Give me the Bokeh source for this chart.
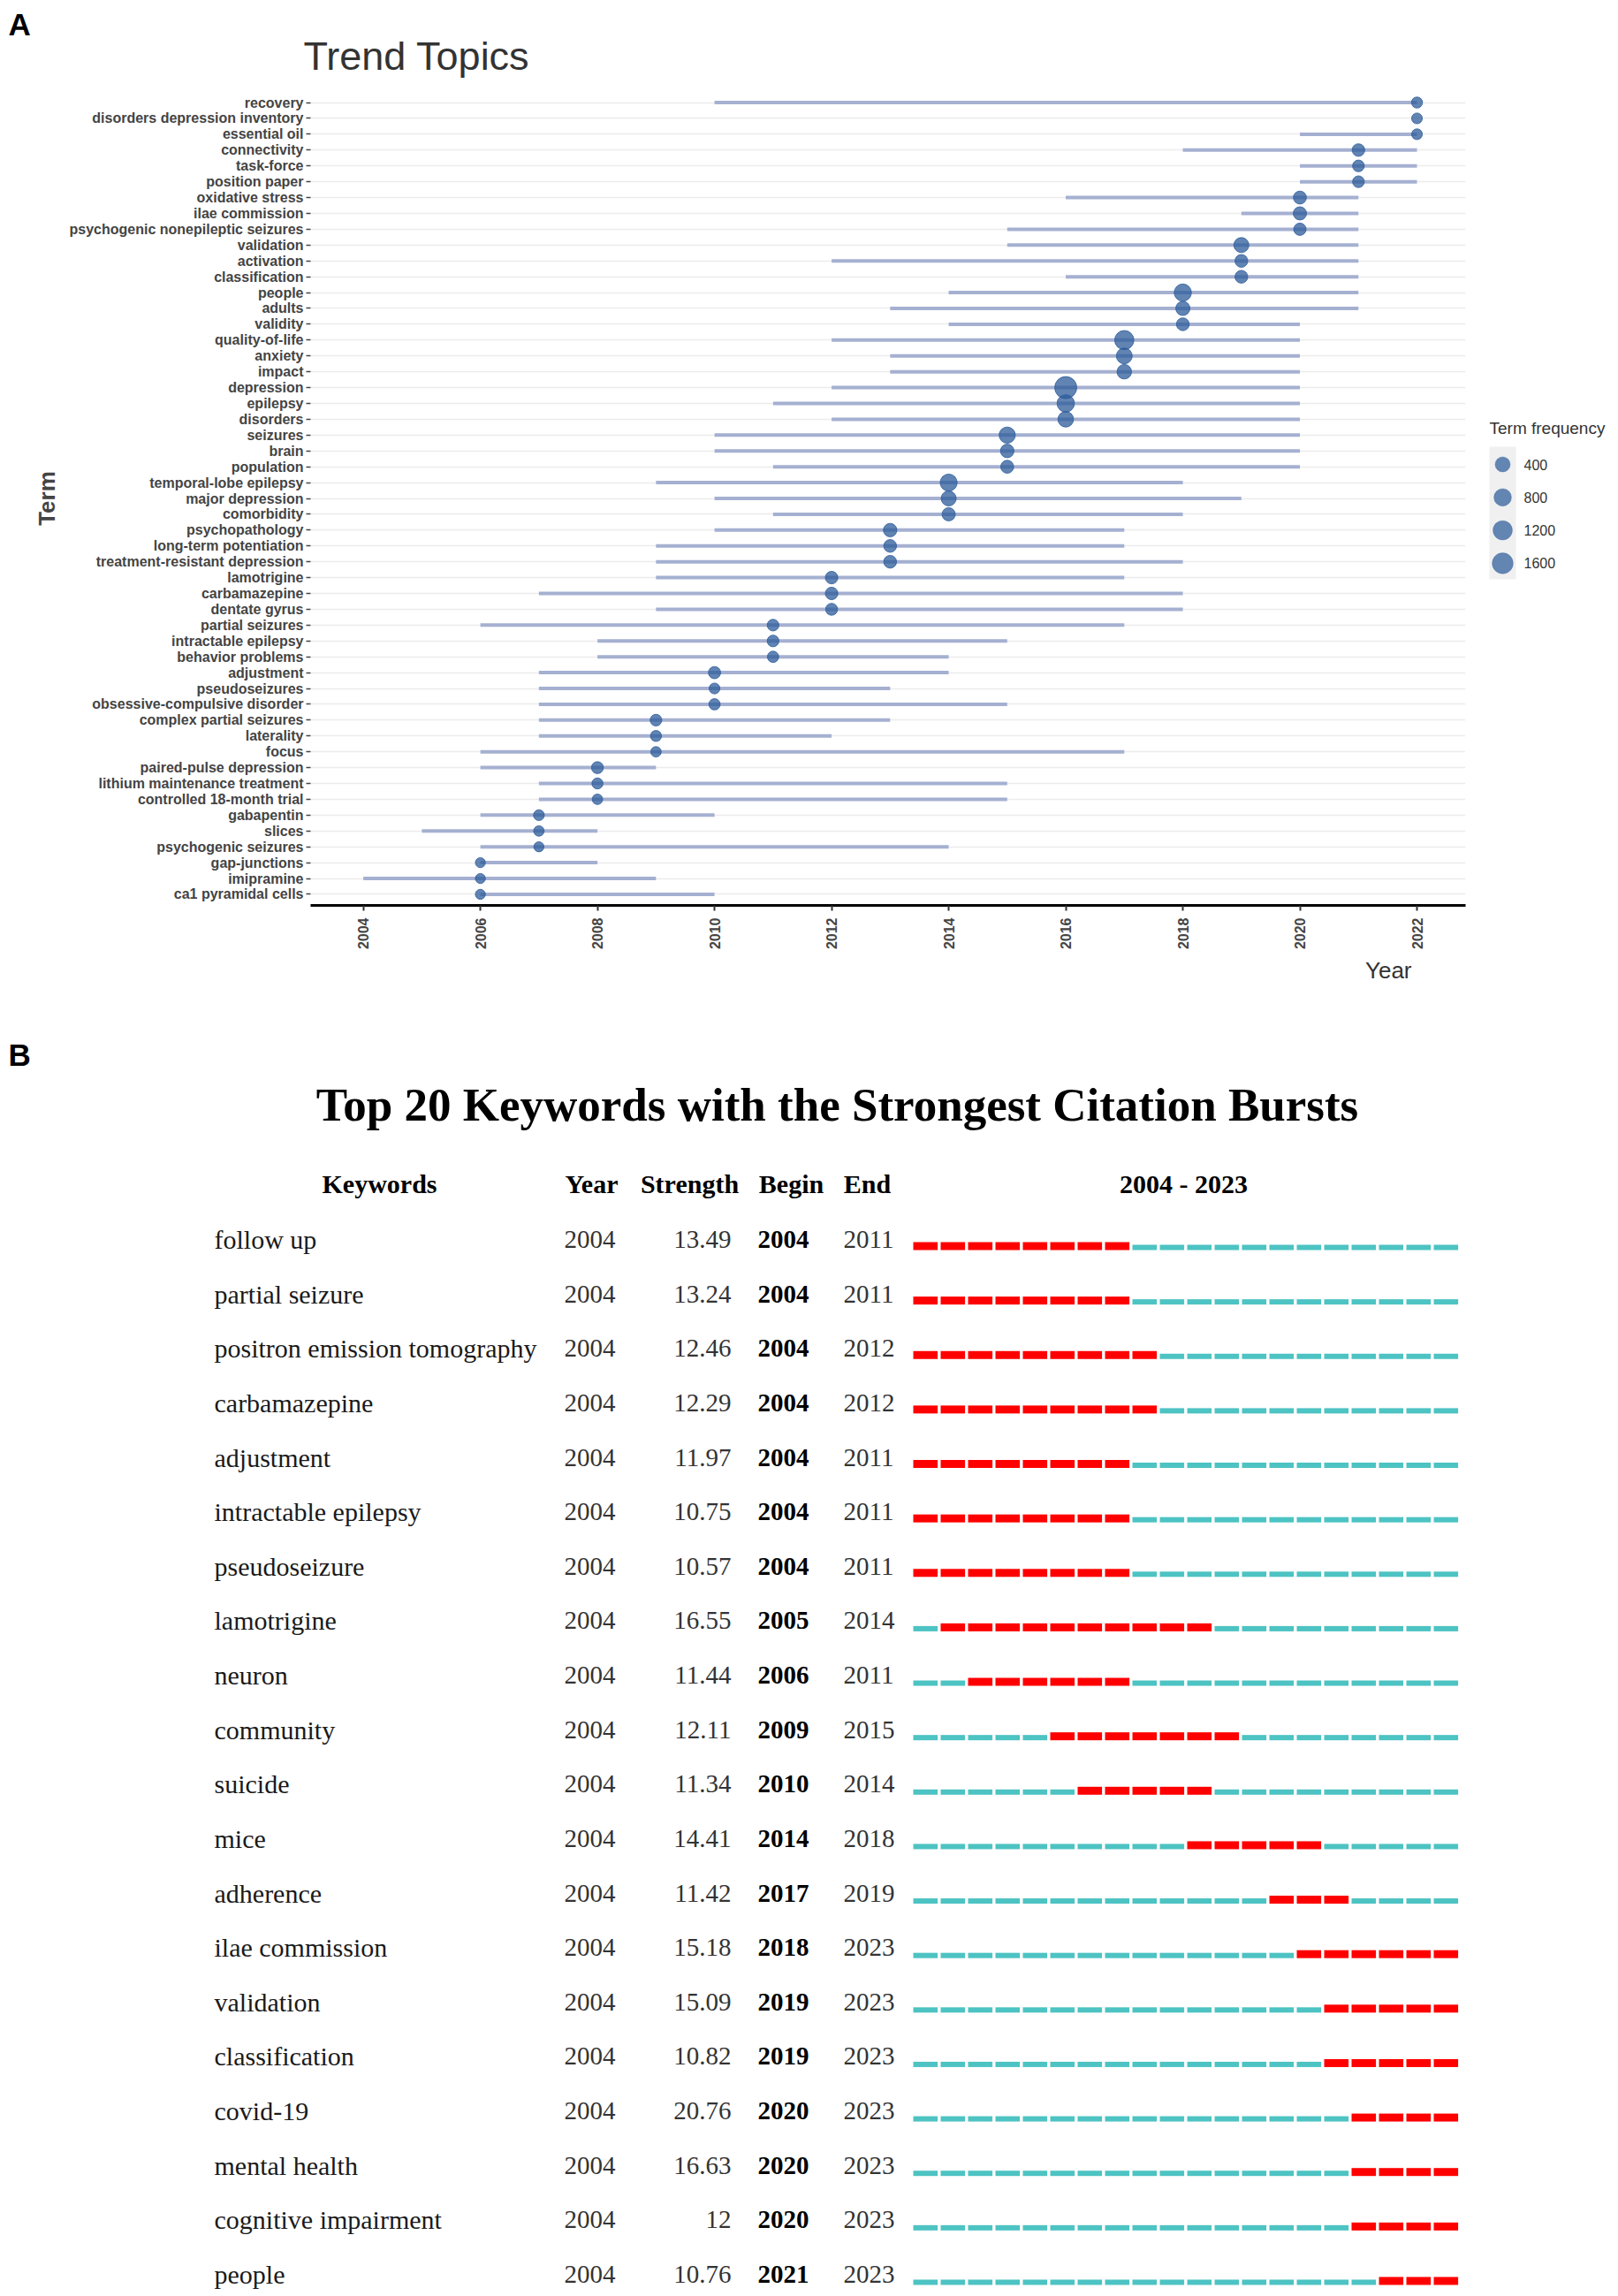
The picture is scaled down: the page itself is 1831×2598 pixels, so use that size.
import numpy as np
from bokeh.plotting import figure
from bokeh.models import FactorRange, Range1d, ColumnDataSource, FixedTicker
from bokeh.layouts import row, column
from bokeh.embed import file_html
from bokeh.resources import INLINE
from bokeh.core.properties import value

# ---------------- Panel A data (Trend Topics) ----------------
terms = ["recovery", "disorders depression inventory", "essential oil", "connectivity",
         "task-force", "position paper", "oxidative stress", "ilae commission",
         "psychogenic nonepileptic seizures", "validation", "activation", "classification",
         "people", "adults", "validity", "quality-of-life", "anxiety", "impact",
         "depression", "epilepsy", "disorders", "seizures", "brain", "population",
         "temporal-lobe epilepsy", "major depression", "comorbidity", "psychopathology",
         "long-term potentiation", "treatment-resistant depression", "lamotrigine",
         "carbamazepine", "dentate gyrus", "partial seizures", "intractable epilepsy",
         "behavior problems", "adjustment", "pseudoseizures", "obsessive-compulsive disorder",
         "complex partial seizures", "laterality", "focus", "paired-pulse depression",
         "lithium maintenance treatment", "controlled 18-month trial", "gabapentin",
         "slices", "psychogenic seizures", "gap-junctions", "imipramine", "ca1 pyramidal cells"]
year_q1 = [2010, 2022, 2020, 2018, 2020, 2020, 2016, 2019, 2015, 2015, 2012, 2016,
           2014, 2013, 2014, 2012, 2013, 2013, 2012, 2011, 2012, 2010, 2010, 2011,
           2009, 2010, 2011, 2010, 2009, 2009, 2009, 2007, 2009, 2006, 2008, 2008,
           2007, 2007, 2007, 2007, 2007, 2006, 2006, 2007, 2007, 2006, 2005, 2006,
           2006, 2004, 2006]
year_med = [2022, 2022, 2022, 2021, 2021, 2021, 2020, 2020, 2020, 2019, 2019, 2019,
            2018, 2018, 2018, 2017, 2017, 2017, 2016, 2016, 2016, 2015, 2015, 2015,
            2014, 2014, 2014, 2013, 2013, 2013, 2012, 2012, 2012, 2011, 2011, 2011,
            2010, 2010, 2010, 2009, 2009, 2009, 2008, 2008, 2008, 2007, 2007, 2007,
            2006, 2006, 2006]
year_q3 = [2022, 2022, 2022, 2022, 2022, 2022, 2021, 2021, 2021, 2021, 2021, 2021,
           2021, 2021, 2020, 2020, 2020, 2020, 2020, 2020, 2020, 2020, 2020, 2020,
           2018, 2019, 2018, 2017, 2017, 2018, 2017, 2018, 2018, 2017, 2015, 2014,
           2014, 2013, 2015, 2013, 2012, 2017, 2009, 2015, 2015, 2010, 2008, 2014,
           2008, 2009, 2010]
term_freq = [37, 25, 25, 133, 72, 72, 162, 186, 112, 388, 147, 147,
             744, 278, 147, 1152, 516, 330, 1931, 777, 476, 559, 212, 162,
             711, 388, 186, 203, 147, 147, 126, 126, 83, 67, 67, 49,
             100, 27, 49, 67, 37, 16, 83, 37, 16, 27, 16, 8,
             6, 6, 7]
legend_freq = [400, 800, 1200, 1600]
year_ticks = [2004, 2006, 2008, 2010, 2012, 2014, 2016, 2018, 2020, 2022]

# ---------------- Panel B data (Citation bursts) ----------------
kw = ["follow up", "partial seizure", "positron emission tomography", "carbamazepine",
      "adjustment", "intractable epilepsy", "pseudoseizure", "lamotrigine", "neuron",
      "community", "suicide", "mice", "adherence", "ilae commission", "validation",
      "classification", "covid-19", "mental health", "cognitive impairment", "people"]
kw_year = [2004] * 20
kw_strength = [13.49, 13.24, 12.46, 12.29, 11.97, 10.75, 10.57, 16.55, 11.44, 12.11,
               11.34, 14.41, 11.42, 15.18, 15.09, 10.82, 20.76, 16.63, 12, 10.76]
kw_begin = [2004, 2004, 2004, 2004, 2004, 2004, 2004, 2005, 2006, 2009,
            2010, 2014, 2017, 2018, 2019, 2019, 2020, 2020, 2020, 2021]
kw_end = [2011, 2011, 2012, 2012, 2011, 2011, 2011, 2014, 2011, 2015,
          2014, 2018, 2019, 2023, 2023, 2023, 2023, 2023, 2023, 2023]
span_first, span_last = 2004, 2023

SANS = "Liberation Sans"
SERIF = "Liberation Serif"
W = 1823


def dot_diameter(f):
    return 10.5 + 0.33 * np.sqrt(np.asarray(f, dtype=float))


def blank(width, height, xr, yr, **kw_):
    f = figure(width=width, height=height, x_range=xr, y_range=yr,
               output_backend="svg", toolbar_location=None, min_border=0,
               x_axis_location=None, y_axis_location=None, **kw_)
    f.outline_line_color = None
    f.grid.grid_line_color = None
    return f


# ================= header (A + title) =================
H_HEAD = 103
pH = blank(W, H_HEAD, Range1d(0, W), Range1d(H_HEAD, 0))
pH.text(x=[9], y=[27], text=["A"], text_font=value(SANS), text_font_style="bold",
        text_font_size="35px", text_color="black", text_baseline="middle")
pH.text(x=[343], y=[63], text=["Trend Topics"], text_font=value(SANS),
        text_font_size="45px", text_color="#333333", text_baseline="middle")

# ================= Panel A figure =================
H_A = 981
W_A = 1668
BOT_A = 60
pA = figure(width=W_A, height=H_A,
            x_range=Range1d(2003.1, 2022.83),
            y_range=FactorRange(factors=terms[::-1], range_padding=0.2,
                                range_padding_units="absolute"),
            output_backend="svg", toolbar_location=None,
            min_border_left=351, min_border_right=10,
            min_border_top=0, min_border_bottom=BOT_A)
pA.outline_line_color = None
pA.xgrid.grid_line_color = None
pA.ygrid.grid_line_color = "#ececec"
pA.ygrid.grid_line_width = 1.5

srcA = ColumnDataSource(dict(term=terms, q1=year_q1, q3=year_q3, med=year_med,
                             freq=term_freq, size=dot_diameter(term_freq)))
pA.segment(x0="q1", y0="term", x1="q3", y1="term", source=srcA,
           line_width=4, line_color="#a5b0d1")
pA.scatter(x="med", y="term", size="size", source=srcA,
           fill_color="#2c5b9a", fill_alpha=0.75,
           line_color="#2c5b9a", line_alpha=0.8, line_width=1)

xa = pA.xaxis[0]
xa.ticker = FixedTicker(ticks=year_ticks)
xa.major_label_orientation = np.pi / 2
xa.major_label_text_font = SANS
xa.major_label_text_font_style = "bold"
xa.major_label_text_font_size = "16px"
xa.major_label_text_color = "#444444"
xa.axis_line_width = 3
xa.axis_line_color = "black"
xa.major_tick_in = 0
xa.major_tick_out = 6
xa.major_tick_line_width = 2
xa.major_tick_line_color = "#333333"
xa.minor_tick_line_color = None
xa.major_label_standoff = 8

ya = pA.yaxis[0]
ya.axis_line_color = None
ya.major_tick_in = 0
ya.major_tick_out = 5
ya.major_tick_line_width = 1.5
ya.major_tick_line_color = "#444444"
ya.major_label_standoff = 3
ya.major_label_text_font = SANS
ya.major_label_text_font_style = "bold"
ya.major_label_text_font_size = "16px"
ya.major_label_text_color = "#444444"
ya.axis_label = "Term"
ya.axis_label_text_font = SANS
ya.axis_label_text_font_style = "bold"
ya.axis_label_text_font_size = "26px"
ya.axis_label_text_color = "#444444"
ya.axis_label_standoff = 8

# ================= Legend figure (frame aligned with panel A frame) =================
W_L = W - W_A
FRAME_H = H_A - BOT_A
pL = figure(width=W_L, height=H_A, x_range=Range1d(0, W_L), y_range=Range1d(FRAME_H, 0),
            output_backend="svg", toolbar_location=None,
            min_border_left=0, min_border_right=0, min_border_top=0,
            min_border_bottom=BOT_A, x_axis_location=None, y_axis_location=None)
pL.outline_line_color = None
pL.grid.grid_line_color = None
leg_y0, leg_dy = 422, 37.3
leg_y = [leg_y0 + i * leg_dy for i in range(len(legend_freq))]
pL.text(x=[17], y=[381], text=["Term frequency"], text_font=value(SANS),
        text_font_size="19px", text_color="#333333", text_baseline="middle")
pL.quad(left=[17], right=[47], top=[leg_y[0] - 20], bottom=[leg_y[-1] + 18],
        fill_color="#f0f0f0", line_color=None)
pL.scatter(x=[32] * len(legend_freq), y=leg_y, size=dot_diameter(legend_freq),
           fill_color="#2c5b9a", fill_alpha=0.72, line_color="#2c5b9a", line_alpha=0.3)
pL.text(x=[56] * len(legend_freq), y=leg_y, text=[str(v) for v in legend_freq],
        text_font=value(SANS), text_font_size="16px", text_color="#333333",
        text_baseline="middle")

# ================= footer ("Year") =================
H_FOOT = 28
pF = blank(W, H_FOOT, Range1d(0, W), Range1d(H_FOOT, 0))
pF.text(x=[1597], y=[13], text=["Year"], text_font=value(SANS), text_font_size="26px",
        text_color="#333333", text_align="right", text_baseline="middle")

# ================= Panel B figure =================
H_B = 1480
pB = blank(W, H_B, Range1d(0, W), Range1d(H_B, 0))

pitch = 31.0
bar_x0 = 1033.0
yr0 = span_first - bar_x0 / pitch
pB.extra_x_ranges = {"yr": Range1d(yr0, yr0 + W / pitch)}

pB.text(x=[9], y=[81], text=["B"], text_font=value(SANS), text_font_style="bold",
        text_font_size="35px", text_color="black", text_baseline="middle")
pB.text(x=[947], y=[137], text=["Top 20 Keywords with the Strongest Citation Bursts"],
        text_font=value(SERIF), text_font_style="bold", text_font_size="53px",
        text_color="black", text_align="center", text_baseline="middle")

headers = ["Keywords", "Year", "Strength", "Begin", "End",
           f"{span_first} - {span_last}"]
header_x = [429, 669, 780, 895, 981, 1339]
pB.text(x=header_x, y=[227] * len(headers), text=headers, text_font=value(SERIF),
        text_font_style="bold", text_font_size="30px", text_color="black",
        text_align="center", text_baseline="middle")

n = len(kw)
row_dy = 61.63
mid_y = [290 + i * row_dy for i in range(n)]
pB.text(x=[242] * n, y=mid_y, text=kw, text_font=value(SERIF), text_font_size="30px",
        text_color="#1a1a1a", text_baseline="middle")
pB.text(x=[638] * n, y=mid_y, text=[str(v) for v in kw_year], text_font=value(SERIF),
        text_font_size="29px", text_color="#333333", text_baseline="middle")
pB.text(x=[827] * n, y=mid_y, text=[f"{v:g}" for v in kw_strength],
        text_font=value(SERIF), text_font_size="29px", text_color="#333333",
        text_align="right", text_baseline="middle")
pB.text(x=[857] * n, y=mid_y, text=[str(v) for v in kw_begin], text_font=value(SERIF),
        text_font_style="bold", text_font_size="29px", text_color="black",
        text_baseline="middle")
pB.text(x=[954] * n, y=mid_y, text=[str(v) for v in kw_end], text_font=value(SERIF),
        text_font_size="29px", text_color="#333333", text_baseline="middle")

years = list(range(span_first, span_last + 1))
seg_w = 27.6 / pitch
red_l, red_r, red_t, red_b = [], [], [], []
cy_l, cy_r, cy_t, cy_b = [], [], [], []
for i in range(n):
    bottom = mid_y[i] + 12
    for yv in years:
        if kw_begin[i] <= yv <= kw_end[i]:
            red_l.append(yv); red_r.append(yv + seg_w)
            red_t.append(bottom - 9); red_b.append(bottom)
        else:
            cy_l.append(yv); cy_r.append(yv + seg_w)
            cy_t.append(bottom - 6); cy_b.append(bottom)
pB.quad(left=cy_l, right=cy_r, top=cy_t, bottom=cy_b, x_range_name="yr",
        fill_color="#4dc3c3", line_color=None)
pB.quad(left=red_l, right=red_r, top=red_t, bottom=red_b, x_range_name="yr",
        fill_color="#ff0000", line_color=None)

layout = column(pH, row(pA, pL), pF, pB)
open("out.html", "w").write(file_html(layout, INLINE))
